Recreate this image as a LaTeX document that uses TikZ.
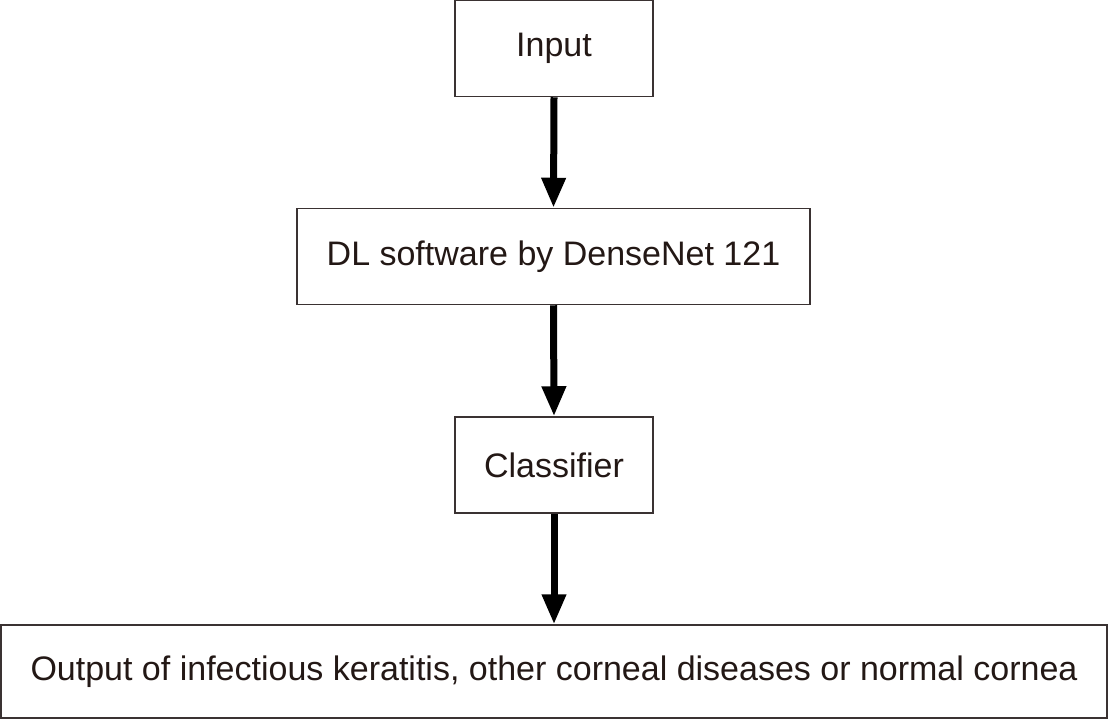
\documentclass[tikz,border=0pt]{standalone}
\usepackage{fontspec}
\setmainfont{Liberation Sans}
\usetikzlibrary{arrows.meta}
\definecolor{boxline}{HTML}{3A3232}
\definecolor{txt}{HTML}{231815}
\begin{document}
\begin{tikzpicture}[x=1pt,y=-1pt,
  stepbox/.style={draw=boxline,line width=1.5pt,fill=white,text=txt,inner sep=0pt,
    font=\fontsize{34}{40}\selectfont},
  flow/.style={line width=7pt,-{Triangle[length=30pt,width=23pt]}}]
\useasboundingbox (0,0) rectangle (1108,721);
\node[stepbox,minimum width=198pt,minimum height=96pt] (in) at (554,48.5) {Input};
\node[stepbox,minimum width=513pt,minimum height=96pt] (dl) at (553.5,256.5) {DL software by DenseNet 121};
\node[stepbox,minimum width=198pt,minimum height=96pt] (cl) at (554,465) {Classifier};
\node[stepbox,minimum width=1106pt,minimum height=93pt] (out) at (554,671.5) {Output of infectious keratitis, other corneal diseases or normal cornea};
\draw[flow] (in.south) -- (dl.north);
\draw[flow] (dl.south) -- (cl.north);
\draw[flow] (cl.south) -- (out.north);
\end{tikzpicture}
\end{document}
